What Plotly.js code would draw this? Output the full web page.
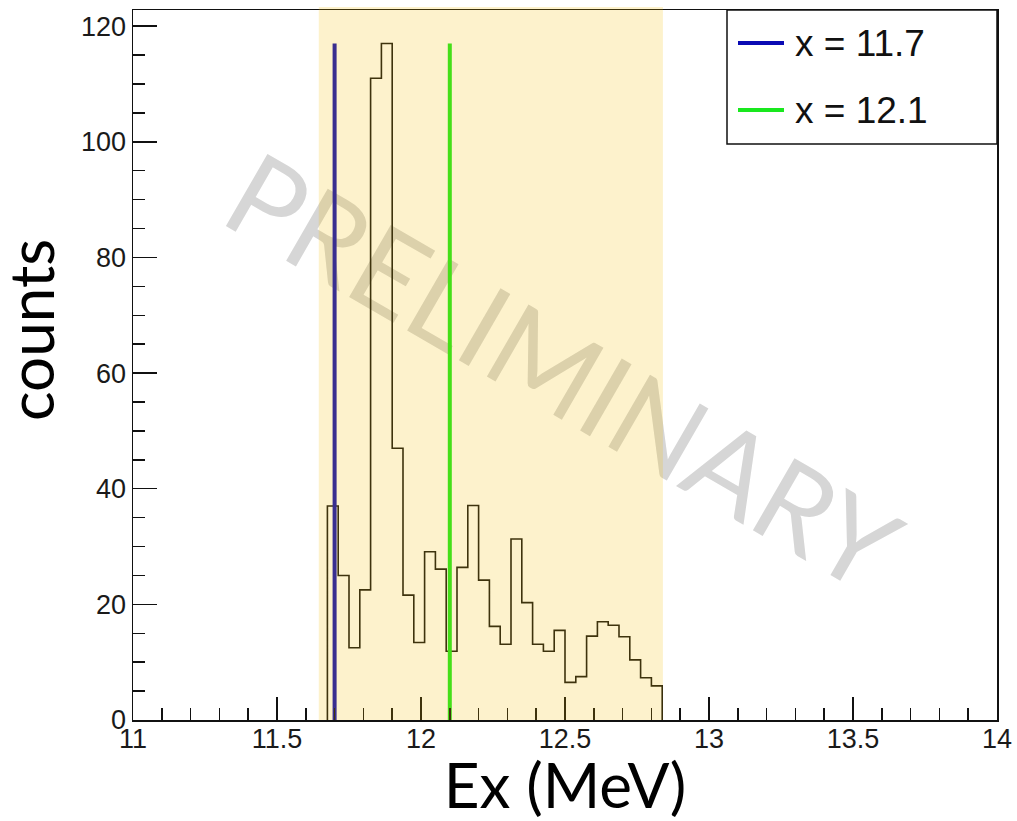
<!DOCTYPE html>
<html>
<head>
<meta charset="utf-8">
<script src="https://cdn.plot.ly/plotly-3.0.1.min.js"></script>
<style>
  html, body { margin: 0; padding: 0; background: #ffffff; }
  #chart { width: 1017px; height: 821px; }
</style>
</head>
<body>
<div id="chart"></div>
<script>
// ---- data ----
var binStart = 11.675;      // MeV, left edge of first filled bin
var binWidth = 0.0375;      // MeV
var counts = [37, 25, 12.5, 22.5, 111, 117, 47, 21.6, 13.4, 29.1, 26.1, 11.9, 26.4, 37.1,
              24.2, 16.2, 13.1, 31.3, 20.3, 13.1, 11.9, 15.5, 6.5, 7.5, 14.5, 17.0, 16.4,
              14.4, 10.4, 7.3, 5.9];
var markerX = [11.7, 12.1];
var markerLabels = ['x = 11.7', 'x = 12.1'];
var markerTop = 117;
var bandRange = [11.645, 12.84];
var xTitle = 'Ex (MeV)';
var yTitle = 'counts';
var watermark = 'PRELIMINARY';

// ---- build the step outline (ROOT-style histogram) ----
var hx = [binStart], hy = [0];
for (var i = 0; i < counts.length; i++) {
  hx.push(binStart + i * binWidth);
  hy.push(counts[i]);
}
hx.push(binStart + counts.length * binWidth);
hy.push(0);

var markerColors = ['rgb(10,10,180)', 'rgb(25,232,30)'];

var traces = [{
  type: 'scatter', mode: 'lines', x: hx, y: hy,
  line: { shape: 'hv', color: '#111111', width: 1.6 },
  showlegend: false, hoverinfo: 'skip'
}];
for (var k = 0; k < markerX.length; k++) {
  traces.push({
    type: 'scatter', mode: 'lines',
    x: [markerX[k], markerX[k]], y: [0, markerTop],
    name: markerLabels[k],
    line: { color: markerColors[k], width: 4 },
    showlegend: false
  });
}

// plot-area geometry helpers for the manual legend
var L = 133, R = 997, T = 10, B = 720;
function px(xp) { return (xp - L) / (R - L); }
function py(yp) { return (B - yp) / (B - T); }

var shapes = [
  // watermark (under the data)
  {
    type: 'rect', xref: 'paper', yref: 'paper',
    x0: px(420), x1: px(710), y0: py(418), y1: py(318),
    line: { width: 0 }, fillcolor: 'rgba(0,0,0,0)', layer: 'below',
    label: {
      text: watermark, textangle: 30, textposition: 'middle center',
      font: { family: 'Lato, "Open Sans", sans-serif', size: 116, color: 'rgb(214,214,214)' }
    }
  },
  // translucent highlighted band (over everything in the frame)
  {
    type: 'rect', xref: 'x', yref: 'paper',
    x0: bandRange[0], x1: bandRange[1], y0: 0, y1: py(7),
    line: { width: 0 }, fillcolor: 'rgba(245,190,0,0.2)', layer: 'above'
  },
  // legend box
  {
    type: 'rect', xref: 'paper', yref: 'paper',
    x0: px(727), x1: px(997), y0: py(144), y1: py(10),
    line: { color: '#111111', width: 1.5 }, fillcolor: '#ffffff', layer: 'above'
  }
];
var annotations = [{
  xref: 'paper', yref: 'paper', x: px(30), y: py(330),
  text: yTitle, textangle: -90, showarrow: false,
  xanchor: 'center', yanchor: 'middle',
  font: { family: 'Lato, "Open Sans", sans-serif', size: 62, color: '#000000' }
}];
var legendY = [43, 110];
for (var m = 0; m < markerX.length; m++) {
  shapes.push({
    type: 'line', xref: 'paper', yref: 'paper',
    x0: px(738), x1: px(784), y0: py(legendY[m]), y1: py(legendY[m]),
    line: { color: markerColors[m], width: 4 }, layer: 'above'
  });
  annotations.push({
    xref: 'paper', yref: 'paper', x: px(793), y: py(legendY[m]),
    text: markerLabels[m], showarrow: false, xanchor: 'left', yanchor: 'middle',
    font: { family: '"Liberation Sans", Arial, sans-serif', size: 37, color: '#111111' }
  });
}

var axisCommon = {
  showline: true, linecolor: '#111111', linewidth: 1.5, mirror: true,
  showgrid: false, zeroline: false,
  ticks: 'inside', tickcolor: '#111111', tickwidth: 1.5,
  tickfont: { family: '"Liberation Sans", Arial, sans-serif', size: 27, color: '#1a1a1a' }
};

var layout = {
  width: 1017, height: 821,
  margin: { l: L, r: 1017 - R, t: T, b: 821 - B, pad: 0 },
  paper_bgcolor: '#ffffff', plot_bgcolor: '#ffffff',
  showlegend: false,
  xaxis: Object.assign({}, axisCommon, {
    range: [11, 14], tick0: 11, dtick: 0.5, ticklen: 23, ticklabelstandoff: -6,
    minor: { dtick: 0.1, ticklen: 12, tickwidth: 1.5, tickcolor: '#111111', ticks: 'inside', showgrid: false },
    title: { text: xTitle, standoff: 0,
      font: { family: 'Lato, "Open Sans", sans-serif', size: 62, color: '#000000' } }
  }),
  yaxis: Object.assign({}, axisCommon, {
    range: [0, 122.8], tick0: 0, dtick: 20, ticklen: 24,
    minor: { dtick: 5, ticklen: 12, tickwidth: 1.5, tickcolor: '#111111', ticks: 'inside', showgrid: false }
  }),
  shapes: shapes,
  annotations: annotations
};

Plotly.newPlot('chart', traces, layout, { displayModeBar: false, staticPlot: true });
</script>
</body>
</html>
